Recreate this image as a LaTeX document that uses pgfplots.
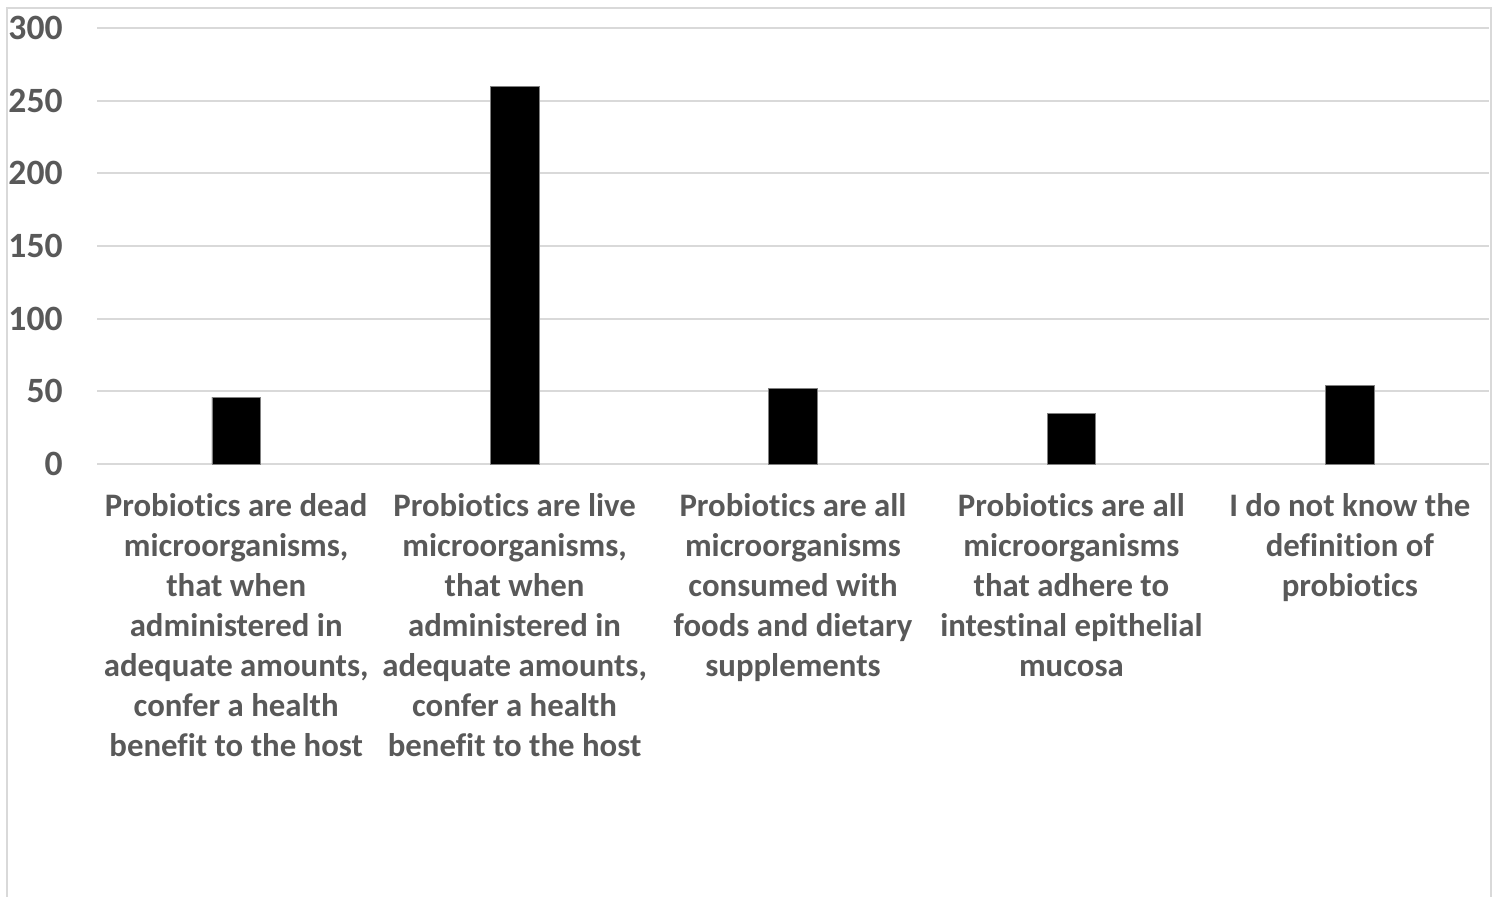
\documentclass[border=0pt]{standalone}
\usepackage{fontspec}
\setmainfont{Carlito}[RawFeature={-liga;-clig;-calt;-dlig}]
\usepackage{pgfplots}
\pgfplotsset{compat=1.18}
\definecolor{txt}{HTML}{595959}
\definecolor{gridc}{HTML}{D9D9D9}
\begin{document}
\begin{tikzpicture}[x=0.5pt,y=0.5pt]
\useasboundingbox (0,0) rectangle (1499,896);
\draw[gridc, line width=1pt] (7,-5) -- (7,888) -- (1491,888) -- (1491,-5);
\begin{axis}[
  at={(48.5pt,216pt)}, anchor=south west,
  width=696pt, height=218pt, scale only axis,
  xmin=-0.5, xmax=4.5, ymin=0, ymax=300,
  ytick={0,50,...,300},
  xtick={0,1,2,3,4},
  xticklabels={
    {Probiotics are dead\\microorganisms,\\that when\\administered in\\adequate amounts,\\confer a health\\benefit to the host},
    {Probiotics are live\\microorganisms,\\that when\\administered in\\adequate amounts,\\confer a health\\benefit to the host},
    {Probiotics are all\\microorganisms\\consumed with\\foods and dietary\\supplements},
    {Probiotics are all\\microorganisms\\that adhere to\\intestinal epithelial\\mucosa},
    {I do not know the\\definition of\\probiotics}},
  axis line style={draw=none},
  major tick length=0pt,
  ymajorgrids, grid style={gridc, line width=1pt},
  xticklabel style={align=center, anchor=north, inner sep=0pt, yshift=-14.5pt,
    text=txt, font=\fontsize{16.4pt}{20pt}\selectfont\bfseries},
  yticklabel style={anchor=east, inner sep=0pt, xshift=-17pt,
    text=txt, font=\fontsize{17.8pt}{20pt}\selectfont\bfseries},
  /pgf/number format/assume math mode=true,
  clip=false,
]
\addplot[ybar, bar width=24.3pt, fill=black, draw=gray, line width=0.4pt]
  coordinates {(0,46) (1,260) (2,52) (3,35) (4,54)};
\end{axis}
\end{tikzpicture}
\end{document}
